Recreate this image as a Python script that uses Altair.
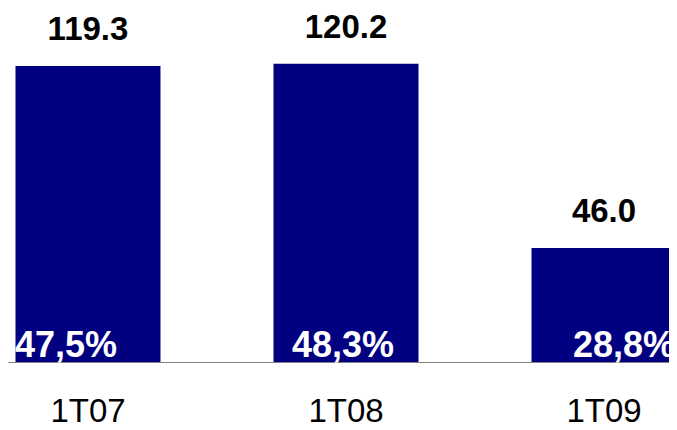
import altair as alt
import pandas as pd

categories = ["1T07", "1T08", "1T09"]
values = [119.3, 120.2, 46.0]
value_labels = ["119.3", "120.2", "46.0"]
pct_labels = ["47,5%", "48,3%", "28,8%"]

df = pd.DataFrame({"cat": categories, "val": values, "vlab": value_labels, "plab": pct_labels})

FONT = "Liberation Sans"

x = alt.X(
    "cat:N", sort=categories, title=None,
    scale=alt.Scale(range=[0, 676], paddingInner=0.438, paddingOuter=0.029),
    axis=alt.Axis(labelAngle=0, labelFont=FONT, labelFontSize=33, labelColor="black",
                  labelPadding=33, ticks=False, tickSize=0,
                  domainColor="#808080", domainWidth=1.2),
)
y = alt.Y("val:Q", scale=alt.Scale(domain=[0, 142.7], nice=False, zero=True), axis=None)

base = alt.Chart(df)
bars = base.mark_bar(color="#000080").encode(x=x, y=y)
vals = base.mark_text(font=FONT, fontWeight="bold", fontSize=33, baseline="alphabetic",
                      dy=-26, color="black").encode(x=x, y=y, text="vlab:N")

pct_dx = {"1T07": -22, "1T08": -3, "1T09": 20}
pct_layers = [
    base.transform_filter(alt.datum.cat == c).mark_text(
        font=FONT, fontWeight="bold", fontSize=36, baseline="alphabetic",
        dy=-5, dx=pct_dx[c], color="white"
    ).encode(x=x, y=alt.datum(0), text="plab:N")
    for c in categories
]

chart = alt.layer(bars, vals, *pct_layers).properties(
    width=661, height=354,
    padding={"left": 0, "top": 0, "right": 0, "bottom": 60},
    autosize=alt.AutoSizeParams(type="none"),
    background="white",
).configure_view(stroke=None)

chart.save("out.html", embed_options={"renderer": "svg", "actions": False})
